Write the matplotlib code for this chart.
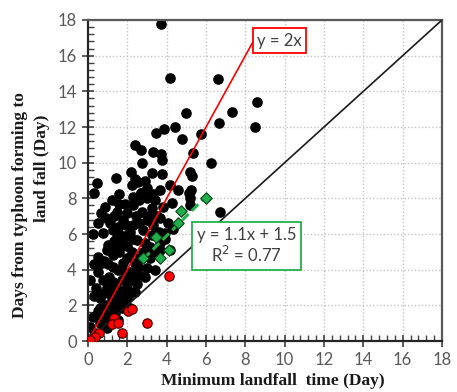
import numpy as np
import matplotlib
matplotlib.use("Agg")
import matplotlib.pyplot as plt
from matplotlib.ticker import MultipleLocator

# black points: all typhoons
black_x = [3.7, 4.15, 6.6, 8.6, 7.3, 6.65, 8.5, 5.0, 4.4, 3.85, 3.45, 4.8, 5.75,
           2.4, 2.7, 3.3, 3.7, 3.75, 5.35, 6.25, 2.75, 2.2, 0.45, 0.3, 1.4, 1.6,
           2.4, 2.55, 2.9, 3.25, 3.75, 2.25, 3.0, 2.9, 3.3, 3.65, 4.15, 4.6,
           5.2, 5.3, 5.25, 5.15,
           2.3, 3.0, 0.85, 1.45, 2.0, 2.75, 3.25, 3.8, 4.25, 5.2, 5.2, 6.7,
           1.1, 1.8, 2.3, 3.0, 3.65, 4.05, 0.75, 1.25, 1.45, 2.15, 2.8, 3.25, 3.9,
           1.0, 1.75, 2.5, 3.15, 3.65, 0.5, 0.95, 1.25, 2.0, 2.65, 3.15, 3.65, 4.15,
           0.5, 1.25, 1.75, 2.15, 2.55, 3.0, 0.1, 0.75, 1.25, 1.75, 2.3, 2.9,
           0.95, 1.55, 2.0, 2.4, 0.6, 1.2, 1.65, 2.05, 0.6, 1.25, 1.75, 2.15,
           0.25, 0.95, 1.35, 0.1, 0.6, 0.95, 0.35,
           1.5, 2.6, 3.3, 2.0, 2.8, 1.4, 2.4, 1.8, 1.0, 3.4, 2.5, 1.1, 1.9, 1.5,
           3.5, 2.3, 1.2, 3.9, 4.3, 0.7, 1.6, 2.7, 3.1, 2.2,
           1.3, 1.9, 2.6, 3.4, 0.9, 1.6, 1.95, 2.45, 1.3, 2.3, 2.9, 1.6, 2.25,
           0.8, 1.5, 2.0, 2.6, 1.05, 1.4, 1.7, 0.8, 0.9, 1.5, 0.5, 0.7, 1.1,
           0.3, 0.4, 0.3, 0.25, 0.5, 0.65, 3.35, 3.6, 1.9, 2.7]
black_y = [17.8, 14.75, 14.7, 13.4, 12.85, 12.2, 12.0, 12.8, 12.0, 11.9, 11.65, 11.3, 11.6,
           11.0, 10.7, 10.6, 10.5, 10.15, 10.55, 10.0, 10.0, 9.5, 8.85, 8.3, 9.15, 8.25,
           9.1, 8.9, 9.0, 9.4, 9.35, 8.75, 8.6, 8.3, 8.25, 8.45, 8.75, 8.45,
           9.45, 9.25, 8.45, 8.3,
           8.1, 8.0, 7.5, 7.25, 7.2, 7.25, 7.45, 7.5, 7.75, 8.0, 7.6, 7.25,
           6.6, 6.8, 6.5, 6.8, 6.9, 6.6, 6.05, 6.25, 5.85, 6.1, 6.25, 5.95, 6.05,
           5.4, 5.5, 5.65, 5.25, 5.5, 4.7, 5.1, 4.8, 4.65, 4.65, 4.65, 5.1, 5.1,
           3.85, 4.15, 4.0, 3.85, 4.15, 4.1, 3.4, 3.4, 3.3, 3.4, 3.4, 3.6,
           3.0, 2.75, 3.0, 2.75, 2.4, 2.4, 2.3, 2.45, 1.85, 1.9, 1.85, 1.85,
           1.35, 1.45, 1.55, 0.8, 1.0, 0.75, 0.45,
           6.4, 6.6, 6.5, 5.3, 5.0, 5.2, 4.4, 4.4, 4.3, 4.0, 3.2, 2.7, 2.1, 1.2,
           7.0, 7.6, 7.9, 5.7, 6.3, 4.4, 7.7, 8.3, 7.0, 3.6,
           7.0, 7.7, 7.9, 7.9, 6.9, 6.0, 6.5, 7.0, 5.6, 5.7, 5.5, 5.0, 5.0,
           4.5, 4.0, 3.5, 3.7, 3.6, 3.0, 2.8, 2.7, 2.0, 2.1, 1.7, 1.3, 1.2,
           2.5, 3.0, 4.3, 6.0, 6.6, 7.2, 4.9, 6.1, 5.9, 8.3]

# red points: fast landfall cases
red_x = [4.1, 2.05, 2.25, 1.3, 1.2, 1.55, 3.0, 1.75, 0.55, 0.35, 0.1]
red_y = [3.65, 1.7, 1.8, 1.3, 0.95, 1.0, 1.0, 0.45, 0.45, 0.2, 0.05]

# green diamonds + fitted line
green_x = [6.0, 4.73, 4.58, 3.46, 4.12, 3.66, 2.8]
green_y = [8.0, 7.3, 6.6, 5.85, 5.1, 4.65, 4.65]
fit_slope = 1.1
fit_icpt = 1.5

fig = plt.figure(figsize=(4.57, 3.92), dpi=100)
ax = fig.add_axes([88/457, 1-341/392, (442-88)/457, (341-20)/392])

ax.set_xlim(0, 18)
ax.set_ylim(0, 18)
ax.xaxis.set_major_locator(MultipleLocator(2))
ax.yaxis.set_major_locator(MultipleLocator(2))
ax.xaxis.set_minor_locator(MultipleLocator(0.4))
ax.yaxis.set_minor_locator(MultipleLocator(0.4))
ax.grid(True, which='major', color='#c4c4c4', linestyle=(0, (1, 1.5)), linewidth=1)
ax.set_axisbelow(True)

ax.tick_params(which='major', direction='inout', length=8, width=1.2, colors='#404040',
               labelcolor='#595959', pad=4)
ax.tick_params(which='minor', direction='in', length=4, width=1, colors='#404040')
for lab in ax.get_xticklabels() + ax.get_yticklabels():
    lab.set_fontfamily('Lato')
    lab.set_fontsize(12)

for s in ['left', 'bottom']:
    ax.spines[s].set_color('#262626')
    ax.spines[s].set_linewidth(1.6)
for s in ['top', 'right']:
    ax.spines[s].set_color('#595959')
    ax.spines[s].set_linewidth(1.6)

ax.scatter(black_x, black_y, s=44, c='black', zorder=2)

# reference lines
xr = np.array([0, 8.5])
ax.plot(xr, 2*xr, color='#ff0000', lw=1.2, zorder=3)
ax.plot([0, 18], [0, 18], color='#1a1a1a', lw=1.2, zorder=3)

gx = np.array([min(green_x), max(green_x)])
ax.plot(gx, fit_slope*gx + fit_icpt, color='#22b14c', lw=2.2, ls=(0, (3, 1.5)), zorder=4)
ax.scatter(green_x, green_y, s=34, marker='D', c='#1fae49', edgecolors='#0b3d17',
           linewidths=0.8, zorder=5)
ax.scatter(red_x, red_y, s=46, c='#ff0000', edgecolors='#3a0000', linewidths=0.8, zorder=6)

ax.text(9.75, 16.85, 'y = 2x', ha='center', va='center', fontsize=12, family='Lato',
        color='#404040', zorder=7,
        bbox=dict(boxstyle='square,pad=0.25', fc='white', ec='#ff0000', lw=1.3))
ax.text(8.05, 5.33, 'y = 1.1x + 1.5\nR$^2$ = 0.77', ha='center', va='center', fontsize=12,
        family='Lato', color='#404040', linespacing=1.1, zorder=7,
        bbox=dict(boxstyle='square,pad=0.3', fc='white', ec='#22b14c', lw=1.3))

lab_font = dict(family='Liberation Serif', weight='bold', size=12.5, color='#1a1a1a')
fig.text(273/457, 1-381/392, 'Minimum landfall  time (Day)', ha='center', va='center', **lab_font)
fig.text(20/457, 1-205/392, 'Days from typhoon forming to', ha='center', va='center',
         rotation=90, **lab_font)
fig.text(42/457, 1-168/392, 'land fall (Day)', ha='center', va='center', rotation=90, **lab_font)

fig.savefig('out.png', dpi=100)
